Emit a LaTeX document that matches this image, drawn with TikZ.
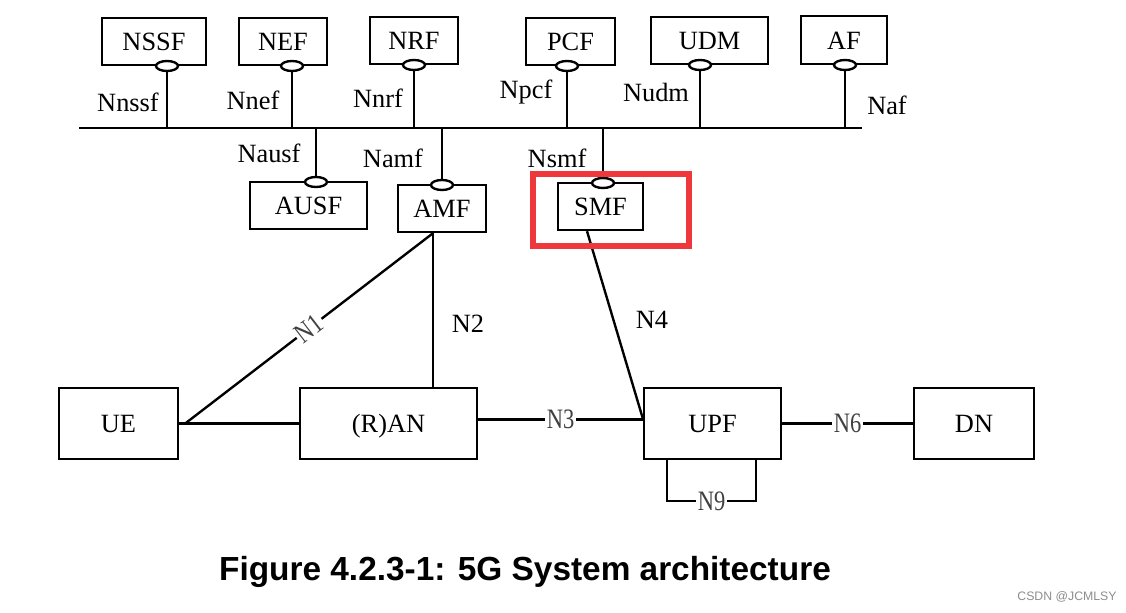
\documentclass[tikz,border=0pt]{standalone}
\usepackage{fontspec}
\setmainfont{Liberation Serif}
\newfontfamily\capfont{Liberation Sans}
\usepackage{graphicx}
\usepackage{tikz}
\usetikzlibrary{shapes.geometric,calc}
\definecolor{hlred}{RGB}{238,56,60}
\newcommand{\lblfont}{\fontsize{15}{18}\selectfont}
\newcommand{\nlbl}[1]{\scalebox{0.8}[1]{\fontsize{16}{18}\selectfont #1}}

\begin{document}
\begin{tikzpicture}[x=0.2mm, y=0.2mm, line width=1.35pt,
  nf/.style={draw, rectangle, minimum height=0.94cm, font=\lblfont, text height=0.37cm, text depth=0cm},
  ueb/.style={draw, rectangle, minimum height=1.42cm, font=\lblfont, text height=0.36cm, text depth=0cm},
  svc/.style={draw, ellipse, fill=white, minimum width=0.44cm, minimum height=0.2cm},
  ifname/.style={font=\lblfont},
  onln/.style={fill=white, inner sep=1pt, text=black!75}]
\tikzstyle{every node}+=[inner sep=0pt]
\useasboundingbox (0,0) rectangle (1126,-613);
\node [nf, minimum width=2.08cm] (NSSF) at (154,-41.5) {NSSF};
\node [nf, minimum width=1.76cm] (NEF) at (283,-41.5) {NEF};
\node [nf, minimum width=1.76cm] (NRF) at (414,-40.5) {NRF};
\node [nf, minimum width=1.78cm] (PCF) at (570.5,-41.5) {PCF};
\node [nf, minimum width=2.34cm] (UDM) at (709.5,-40.5) {UDM};
\node [nf, minimum width=1.72cm, minimum height=0.96cm] (AF) at (844,-40) {AF};
\node [nf, minimum width=2.34cm] (AUSF) at (308.5,-205.5) {AUSF};
\node [nf, minimum width=1.76cm] (AMF) at (442,-208.5) {AMF};
\node [nf, minimum width=1.7cm] (SMF) at (600.5,-206.5) {SMF};
\node [ueb, minimum width=2.38cm] (UE) at (118.5,-423.5) {UE};
\node [ueb, minimum width=3.54cm] (RAN) at (388.5,-423.5) {(R)AN};
\node [ueb, minimum width=2.74cm] (UPF) at (712.5,-423.5) {UPF};
\node [ueb, minimum width=2.4cm] (DN) at (974,-423.5) {DN};
\node [svc] (iNSSF) at (167,-66) {};
\node [svc] (iNEF) at (292,-66) {};
\node [svc] (iNRF) at (414,-65) {};
\node [svc] (iPCF) at (567,-66) {};
\node [svc] (iUDM) at (700,-65) {};
\node [svc] (iAF) at (845,-65) {};
\node [svc] (iAUSF) at (316,-182) {};
\node [svc] (iAMF) at (442,-185) {};
\node [svc] (iSMF) at (603,-183) {};
\coordinate (busW) at (79,-128);
\coordinate (busE) at (862,-128);
\draw (busW) -- (busE);
\foreach \n in {NSSF,NEF,NRF,PCF,UDM,AF}
  \draw (i\n.south) -- (i\n |- busW);
\foreach \n in {AUSF,AMF,SMF}
  \draw (i\n.north) -- (i\n |- busW);
\node [ifname] (lNSSF) at (128,-102) {Nnssf};
\node [ifname] (lNEF) at (253,-100) {Nnef};
\node [ifname] (lNRF) at (378,-98) {Nnrf};
\node [ifname] (lPCF) at (526,-92) {Npcf};
\node [ifname] (lUDM) at (656,-92) {Nudm};
\node [ifname] (lAF) at (887,-105) {Naf};
\node [ifname] (lAUSF) at (269,-153) {Nausf};
\node [ifname] (lAMF) at (393,-158) {Namf};
\node [ifname] (lSMF) at (557,-158) {Nsmf};
\coordinate (amfS) at ($(AMF.south)+(-9,0)$);
\coordinate (ueN1) at ($(UE.east)+(6,0)$);
\draw (UE.east) -- (RAN.west);
\draw (ueN1) -- node [onln, sloped] (lN1) {\nlbl{N1}} (amfS);
\draw (amfS) -- (amfS |- RAN.north);
\node [ifname] (lN2) at (468,-324) {N2};
\draw ($(RAN.east)+(0,4)$) -- node [onln] (lN3) {\nlbl{N3}} ($(UPF.west)+(0,4)$);
\draw ($(SMF.south)+(-13.5,0)$) -- ($(UPF.west)+(0,5)$);
\node [ifname] (lN4) at (652,-320) {N4};
\draw (UPF.east) -- node [onln] (lN6) {\nlbl{N6}} (DN.west);
\draw ($(UPF.south)+(-45.5,0)$) -- ++(0,-41) -- node [onln] (lN9) {\nlbl{N9}} ++(89,0) -- ++(0,41);
\draw [hlred, line width=0.12cm] (533,-174) rectangle (689,-246);
\node [font={\capfont\bfseries\fontsize{19}{22}\selectfont}] (cap) at (525,-572) {Figure 4.2.3-1: 5G System architecture};
\node [font={\capfont\fontsize{7}{8}\selectfont}, text=black!45] (wm) at (1067,-597) {CSDN @JCMLSY};
\end{tikzpicture}
\end{document}
